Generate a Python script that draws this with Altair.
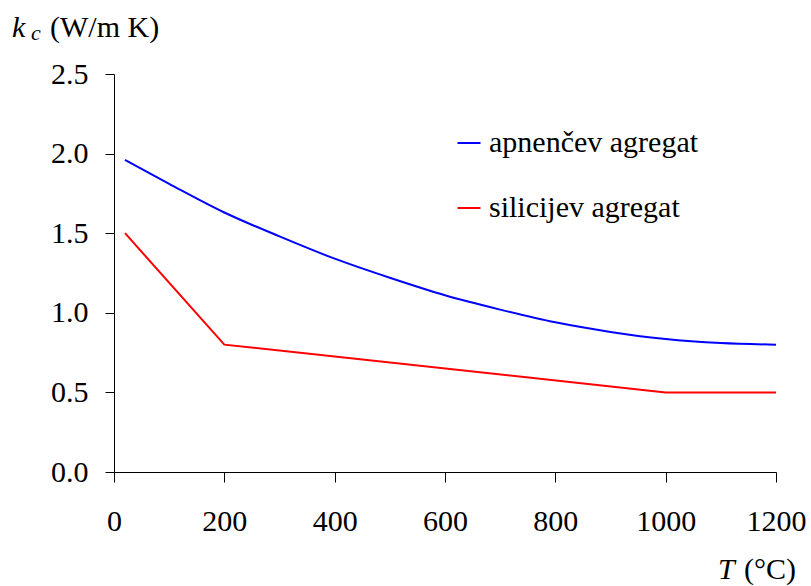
import altair as alt
import pandas as pd

# Thermal conductivity of concrete vs temperature
T_apn = [20, 100, 200, 300, 400, 500, 600, 700, 800, 900, 1000, 1100, 1200]
k_apn = [1.96, 1.81, 1.63, 1.48, 1.34, 1.22, 1.11, 1.02, 0.94, 0.88, 0.835, 0.81, 0.80]

T_sil = [20, 200, 1000, 1200]
k_sil = [1.50, 0.80, 0.50, 0.50]

series_names = ["apnenčev agregat", "silicijev agregat"]
series_colors = ["#0000ff", "#ff0000"]

x_ticks = [0, 200, 400, 600, 800, 1000, 1200]
y_ticks = [0.0, 0.5, 1.0, 1.5, 2.0, 2.5]

FONT = "Liberation Serif"
FS = 30

apn = pd.DataFrame({"T": T_apn, "k": k_apn, "agregat": series_names[0]})
sil = pd.DataFrame({"T": T_sil, "k": k_sil, "agregat": series_names[1]})

axis_style = dict(
    grid=False, title=None, labelFont=FONT, labelFontSize=FS, labelColor="black",
    domainColor="black", tickColor="black", domainWidth=1, tickWidth=1,
    labelFlush=False, labelOverlap=False,
)

x_enc = alt.X(
    "T:Q",
    scale=alt.Scale(domain=[0, 1200], nice=False),
    axis=alt.Axis(values=x_ticks, format="d", tickSize=10, labelPadding=24,
                  **axis_style),
)
y_enc = alt.Y(
    "k:Q",
    scale=alt.Scale(domain=[0, 2.5], nice=False),
    axis=alt.Axis(values=y_ticks, format=".1f", tickSize=9, labelPadding=17,
                  **axis_style),
)
color_enc = alt.Color(
    "agregat:N",
    scale=alt.Scale(domain=series_names, range=series_colors),
    legend=alt.Legend(
        title=None, orient="none", legendX=340, legendY=54,
        symbolType="stroke", symbolSize=529, symbolStrokeWidth=2,
        labelFont=FONT, labelFontSize=FS, labelColor="black",
        labelOffset=5, rowPadding=35, labelLimit=400, padding=0,
    ),
)

line_apn = alt.Chart(apn).mark_line(strokeWidth=2, interpolate="monotone").encode(
    x=x_enc, y=y_enc, color=color_enc
)
line_sil = alt.Chart(sil).mark_line(strokeWidth=2).encode(
    x=x_enc, y=y_enc, color=color_enc
)


def label(text, x, y, size=FS, style="normal", align="left"):
    return alt.Chart(pd.DataFrame({"txt": [text]})).mark_text(
        font=FONT, fontSize=size, fontStyle=style, align=align,
        baseline="alphabetic", color="black",
    ).encode(text="txt:N", x=alt.value(x), y=alt.value(y))


# y-axis title: k_c (W/m K)
y_title = [
    label("k", -102, -37, style="italic"),
    label("c", -83, -34, size=22, style="italic"),
    label("(W/m K)", -64, -37),
]
# x-axis title: T (°C)
x_title = [
    label("T", 604, 505, style="italic"),
    label("(°C)", 682, 505, align="right"),
]

chart = alt.layer(line_apn, line_sil, *y_title, *x_title).properties(
    width=662,
    height=398,
    autosize=alt.AutoSizeParams(type="none"),
    padding={"left": 114, "top": 74, "right": 35, "bottom": 114},
).configure(background="white").configure_view(stroke=None)

chart.save("out.html", embed_options={"renderer": "svg", "actions": False})
